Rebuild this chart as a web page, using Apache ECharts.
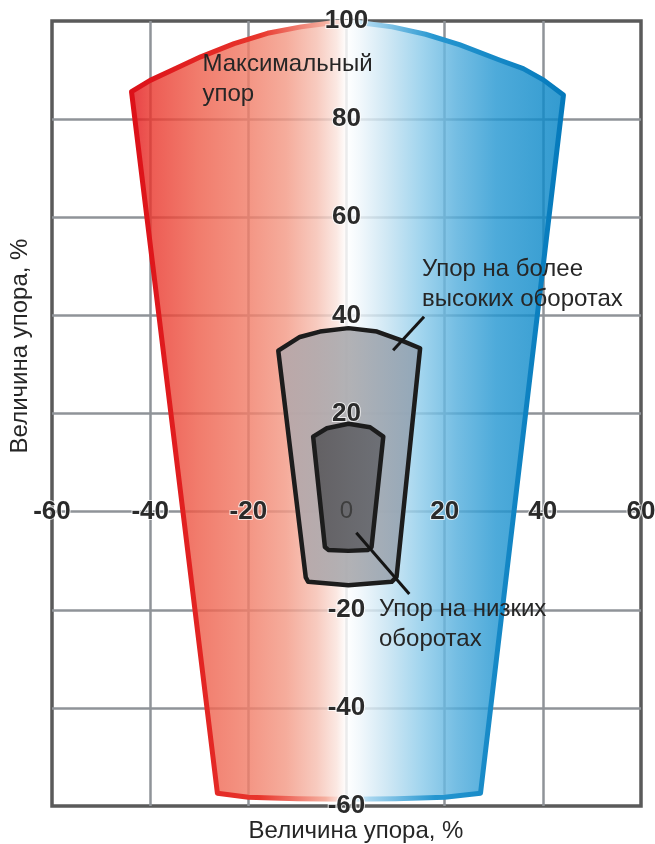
<!DOCTYPE html>
<html>
<head>
<meta charset="utf-8">
<title>Величина упора</title>
<script src="https://cdn.jsdelivr.net/npm/echarts@6/dist/echarts.min.js"></script>
<style>
  html, body { margin: 0; padding: 0; background: #fff; }
  #chart { width: 655px; height: 844px; }
</style>
</head>
<body>
<div id="chart"></div>
<script>
// оси: подписи делений
const xTicks = [-60, -40, -20, 0, 20, 40, 60];
const yTicks = [-60, -40, -20, 0, 20, 40, 60, 80, 100];

// контур зоны "Максимальный упор" (x %, y %)
const maxThrustOutline = [
  [-43.8, 85.6], [-40.0, 87.9], [-34.6, 90.4], [-29.7, 92.7], [-22.9, 95.4],
  [-16.1, 97.5], [-9.3, 98.8], [-2.5, 99.7], [2.5, 99.7], [9.3, 98.8],
  [16.1, 97.3], [23.0, 95.2], [31.3, 92.0], [36.0, 90.3], [40.1, 88.0],
  [44.2, 84.9], [27.3, -57.4], [20.0, -58.2], [10.0, -58.5], [0.0, -58.6],
  [-10.0, -58.5], [-20.0, -58.2], [-26.3, -57.4]
];

// контур "Упор на более высоких оборотах"
const highRpmOutline = [
  [-13.9, 32.8], [-9.5, 35.6], [-5.4, 36.7], [0.4, 37.4], [6.2, 36.7],
  [10.9, 35.0], [15.0, 33.3], [10.2, -13.3], [9.2, -14.3], [0.4, -15.0],
  [-7.8, -14.3], [-8.3, -13.4]
];

// контур "Упор на низких оборотах"
const lowRpmOutline = [
  [-6.8, 15.3], [-4.0, 17.0], [0.4, 17.9], [4.8, 17.2], [7.5, 15.3],
  [5.1, -7.2], [4.4, -7.8], [0.4, -8.0], [-3.7, -7.8], [-4.4, -7.2]
];

// выноски к подписям
const highRpmLeader = [[9.5, 32.9], [15.8, 39.7]];
const lowRpmLeader = [[2.0, -4.3], [12.8, -16.8]];

const font = "'Liberation Sans', Arial, sans-serif";

const chart = echarts.init(document.getElementById('chart'));

function shapeSeries(name, outline, leader, style) {
  return {
    type: 'custom',
    name: name,
    coordinateSystem: 'cartesian2d',
    xAxisIndex: 1,
    yAxisIndex: 1,
    silent: true,
    z: 2,
    data: outline,
    encode: { x: 0, y: 1 },
    renderItem: function (params, api) {
      if (params.dataIndex !== 0) return null;
      const children = [{
        type: 'polygon',
        shape: { points: outline.map(p => api.coord(p)) },
        style: style
      }];
      if (leader) {
        const a = api.coord(leader[0]);
        const b = api.coord(leader[1]);
        children.push({
          type: 'line',
          shape: { x1: a[0], y1: a[1], x2: b[0], y2: b[1] },
          style: { stroke: '#151515', lineWidth: 3 }
        });
      }
      return { type: 'group', children: children };
    }
  };
}

const tickLabel = {
  fontFamily: font,
  fontSize: 26,
  fontWeight: 'bold',
  color: '#2a2a2a',
  textBorderColor: 'rgba(255,255,255,0.75)',
  textBorderWidth: 2,
  margin: 0,
  align: 'center',
  verticalAlign: 'middle',
  showMinLabel: true,
  showMaxLabel: true,
  rich: {
    dim: { fontFamily: font, fontSize: 24, fontWeight: 'normal', color: '#3e3e3e', textBorderWidth: 0 }
  }
};

const gridLine = { show: true, showMinLine: false, showMaxLine: false, lineStyle: { color: '#8f9398', width: 2.5 } };

const plotBox = { left: 52, right: 14, top: 21, bottom: 38, containLabel: false, outerBoundsMode: 'none' };

function textStyle(text, extra) {
  return Object.assign({
    text: text, fontFamily: font, fontSize: 24, fill: '#262626', lineHeight: 30,
    align: 'left', textAlign: 'left', verticalAlign: 'top', textVerticalAlign: 'top'
  }, extra || {});
}

const option = {
  animation: false,
  backgroundColor: '#fff',
  grid: [
    // сетка и рамка
    Object.assign({ show: true, borderColor: '#5a5a5a', borderWidth: 3.5, backgroundColor: '#fff' }, plotBox),
    // та же площадь: фигуры и подписи делений поверх них
    Object.assign({ show: false, z: 10 }, plotBox)
  ],
  xAxis: [
    {
      gridIndex: 0, type: 'value', min: xTicks[0], max: xTicks[xTicks.length - 1], interval: xTicks[1] - xTicks[0],
      axisLine: { show: false, onZero: false }, axisTick: { show: false }, axisLabel: { show: false },
      splitLine: gridLine
    },
    {
      gridIndex: 1, type: 'value', min: xTicks[0], max: xTicks[xTicks.length - 1], interval: xTicks[1] - xTicks[0],
      position: 'bottom', z: 10,
      axisLine: { show: false, onZero: false }, axisTick: { show: false },
      splitLine: { show: false },
      axisLabel: Object.assign({}, tickLabel, { formatter: v => v === 0 ? '{dim|0}' : String(v) })
    }
  ],
  yAxis: [
    {
      gridIndex: 0, type: 'value', min: yTicks[0], max: yTicks[yTicks.length - 1], interval: yTicks[1] - yTicks[0],
      axisLine: { show: false, onZero: false }, axisTick: { show: false }, axisLabel: { show: false },
      splitLine: gridLine
    },
    {
      gridIndex: 1, type: 'value', min: yTicks[0], max: yTicks[yTicks.length - 1], interval: yTicks[1] - yTicks[0],
      position: 'left', z: 10,
      axisLine: { show: false, onZero: false }, axisTick: { show: false },
      splitLine: { show: false },
      axisLabel: Object.assign({}, tickLabel, { formatter: v => v === 0 ? '' : String(v) })
    }
  ],
  series: [
    shapeSeries('Максимальный упор', maxThrustOutline, null, {
      fill: new echarts.graphic.LinearGradient(0, 0, 1, 0, [
        { offset: 0, color: '#e2141b' },
        { offset: 0.055, color: '#ea3a30' },
        { offset: 0.157, color: '#ee5f4c' },
        { offset: 0.27, color: '#f17d68' },
        { offset: 0.36, color: '#f39a86' },
        { offset: 0.43, color: '#f6bfb1' },
        { offset: 0.475, color: '#fae3dc' },
        { offset: 0.498, color: '#ffffff' },
        { offset: 0.53, color: '#eef6fb' },
        { offset: 0.59, color: '#c6e3f2' },
        { offset: 0.67, color: '#8ccbea' },
        { offset: 0.75, color: '#56afdd' },
        { offset: 0.84, color: '#2798d2' },
        { offset: 1, color: '#0584c5' }
      ]),
      fillOpacity: 0.82,
      stroke: new echarts.graphic.LinearGradient(0, 0, 1, 0, [
        { offset: 0, color: '#dc1018' },
        { offset: 0.3, color: '#e8362c' },
        { offset: 0.45, color: '#f5b0a0' },
        { offset: 0.5, color: '#ffffff' },
        { offset: 0.55, color: '#a8d6ef' },
        { offset: 0.7, color: '#2596d0' },
        { offset: 1, color: '#0479bb' }
      ]),
      lineWidth: 5,
      lineJoin: 'round'
    }),
    shapeSeries('Упор на более высоких оборотах', highRpmOutline, highRpmLeader, {
      fill: new echarts.graphic.LinearGradient(0, 0, 1, 0, [
        { offset: 0, color: '#b7a7a9' },
        { offset: 0.5, color: '#a9a9ad' },
        { offset: 1, color: '#8ea2b4' }
      ]),
      fillOpacity: 0.9,
      stroke: '#1c1c1c',
      lineWidth: 4.5,
      lineJoin: 'round'
    }),
    shapeSeries('Упор на низких оборотах', lowRpmOutline, lowRpmLeader, {
      fill: new echarts.graphic.LinearGradient(0, 0, 1, 0, [
        { offset: 0, color: '#5c5a5d' },
        { offset: 1, color: '#6a6c72' }
      ]),
      fillOpacity: 0.93,
      stroke: '#1c1c1c',
      lineWidth: 4.5,
      lineJoin: 'round'
    })
  ],
  graphic: [
    { type: 'text', x: 202.5, y: 49, z: 20, silent: true, style: textStyle('Максимальный\nупор') },
    { type: 'text', x: 422, y: 254, z: 20, silent: true, style: textStyle('Упор на более\nвысоких оборотах') },
    { type: 'text', x: 379, y: 594, z: 20, silent: true, style: textStyle('Упор на низких\nоборотах') },
    {
      type: 'text', x: 356, y: 831, z: 20, silent: true,
      style: textStyle('Величина упора, %', { align: 'center', textAlign: 'center', verticalAlign: 'middle', textVerticalAlign: 'middle' })
    },
    {
      type: 'text', x: 20, y: 346, rotation: Math.PI / 2, z: 20, silent: true,
      style: textStyle('Величина упора, %', { align: 'center', textAlign: 'center', verticalAlign: 'middle', textVerticalAlign: 'middle' })
    }
  ]
};

chart.setOption(option);

// подписи делений переносим на нулевые линии: смещение берём из шкал осей
const corner = chart.convertToPixel({ gridIndex: 1 }, [xTicks[0], yTicks[0]]);
const zero = chart.convertToPixel({ gridIndex: 1 }, [0, 0]);
chart.setOption({
  xAxis: [{}, { offset: zero[1] - corner[1] }],
  yAxis: [{}, { offset: corner[0] - zero[0] }]
});
</script>
</body>
</html>
